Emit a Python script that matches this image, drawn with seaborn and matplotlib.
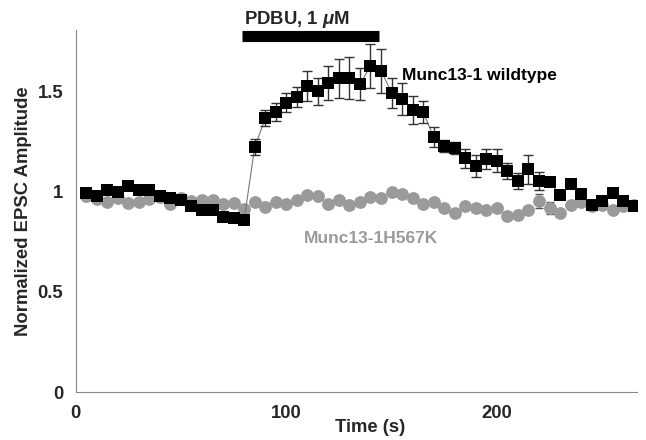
import matplotlib
matplotlib.use('Agg')
import matplotlib.pyplot as plt
import numpy as np
import pandas as pd
import seaborn as sns

# time points (s)
times = [5, 10, 15, 20, 25, 30, 35, 40, 45, 50, 55, 60, 65, 70, 75, 80,
         85, 90, 95, 100, 105, 110, 115, 120, 125, 130, 135, 140, 145, 150,
         155, 160, 165, 170, 175, 180, 185, 190, 195, 200, 205, 210, 215, 220,
         225, 230, 235, 240, 245, 250, 255, 260, 265]

# Munc13-1 wildtype
wt_mean = [0.995, 0.977, 1.01, 1.0, 1.03, 1.007, 1.01, 0.977, 0.97, 0.96,
           0.93, 0.907, 0.907, 0.874, 0.866, 0.857,
           1.22, 1.365, 1.398, 1.443, 1.473, 1.527, 1.50, 1.543, 1.565, 1.565,
           1.535, 1.626, 1.603, 1.493, 1.46, 1.406, 1.398, 1.27, 1.227, 1.218,
           1.165, 1.127, 1.16, 1.153, 1.103, 1.053, 1.11, 1.053, 1.048, 0.982,
           1.037, 0.99, 0.932, 0.954, 0.994, 0.954, 0.927]
wt_err = [0.02, 0.02, 0.02, 0.02, 0.02, 0.02, 0.02, 0.02, 0.02, 0.02,
          0.02, 0.02, 0.02, 0.02, 0.02, 0.02,
          0.04, 0.04, 0.045, 0.047, 0.05, 0.075, 0.067, 0.085, 0.097, 0.105,
          0.08, 0.11, 0.11, 0.075, 0.08, 0.07, 0.055, 0.05, 0.03, 0.03,
          0.047, 0.055, 0.05, 0.058, 0.04, 0.04, 0.07, 0.045, 0.02, 0.02,
          0.02, 0.02, 0.02, 0.02, 0.02, 0.02, 0.02]

# Munc13-1 H567K
hk_mean = [0.98, 0.965, 0.949, 0.97, 0.944, 0.949, 0.965, 0.975, 0.94, 0.966,
           0.955, 0.96, 0.957, 0.937, 0.944, 0.912,
           0.949, 0.924, 0.949, 0.937, 0.957, 0.982, 0.977, 0.94, 0.96, 0.935,
           0.949, 0.974, 0.97, 0.999, 0.99, 0.97, 0.937, 0.95, 0.92, 0.895,
           0.93, 0.92, 0.907, 0.916, 0.877, 0.882, 0.908, 0.955, 0.916, 0.894,
           0.932, 0.95, 0.93, 0.932, 0.91, 0.93, 0.932]
hk_err = [0.015] * 43 + [0.035, 0.03] + [0.015] * 8

wt = pd.DataFrame({'t': times, 'amp': wt_mean, 'err': wt_err})
hk = pd.DataFrame({'t': times, 'amp': hk_mean, 'err': hk_err})

sns.set_style('white')
plt.rcParams['font.family'] = ['Liberation Sans', 'DejaVu Sans']
plt.rcParams['font.weight'] = 'bold'
plt.rcParams['mathtext.fontset'] = 'custom'
plt.rcParams['mathtext.rm'] = 'Liberation Sans:bold'
plt.rcParams['mathtext.it'] = 'Liberation Sans:bold:italic'

gray = '#9a9a9a'
fs = 13.3

fig = plt.figure(figsize=(6.46, 4.4), dpi=100)
ax = fig.add_axes([0.117, 0.109, 0.869, 0.823])

# H567K (grey circles)
ax.errorbar(hk['t'], hk['amp'], yerr=hk['err'], fmt='none', ecolor='#555555',
            elinewidth=1, capsize=3, zorder=2)
sns.scatterplot(data=hk, x='t', y='amp', marker='o', s=85, color=gray,
                edgecolor=gray, linewidth=0, ax=ax, zorder=3)

# wildtype (black squares)
sns.lineplot(data=wt, x='t', y='amp', color='#777777', linewidth=0.8, ax=ax,
             zorder=4)
ax.errorbar(wt['t'], wt['amp'], yerr=wt['err'], fmt='none', ecolor='#333333',
            elinewidth=1, capsize=3.5, zorder=5)
sns.scatterplot(data=wt, x='t', y='amp', marker='s', s=80, color='black',
                edgecolor='black', linewidth=0, ax=ax, zorder=6)

ax.set_xlim(0, 266.5)
ax.set_ylim(0, 1.806)
ax.set_xticks([0, 100, 200])
ax.set_xticks([50, 150, 250], minor=True)
ax.set_xticklabels(['0', '100', '200'])
ax.set_yticks([0, 0.5, 1, 1.5])
ax.set_yticklabels(['0', '0.5', '1', '1.5'])
ax.tick_params(axis='both', which='both', direction='out', length=4,
               width=0.8, color='#888888', labelsize=fs, pad=5)
ax.tick_params(axis='x', which='minor', length=3)
for lab in ax.get_xticklabels() + ax.get_yticklabels():
    lab.set_fontweight('bold')

ax.set_xlabel('Time (s)', fontsize=fs, fontweight='bold', labelpad=0)
ax.xaxis.set_label_coords(0.525, -0.075)
ax.set_ylabel('Normalized EPSC Amplitude', fontsize=fs, fontweight='bold',
              labelpad=4)

for side in ['top', 'right']:
    ax.spines[side].set_visible(False)
for side in ['left', 'bottom']:
    ax.spines[side].set_color('#888888')
    ax.spines[side].set_linewidth(0.8)

# PDBU application bar
ax.plot([79, 144], [1.778, 1.778], color='black', linewidth=8,
        solid_capstyle='butt', clip_on=False, zorder=7)
ax.text(80, 1.858, r'PDBU, 1 $\mu$M', ha='left', va='center',
        fontsize=fs, fontweight='bold', clip_on=False)

ax.text(155, 1.58, 'Munc13-1 wildtype', ha='left', va='center',
        fontsize=12.5, fontweight='bold', color='black')
ax.text(108.5, 0.765, 'Munc13-1H567K', ha='left', va='center',
        fontsize=12.5, fontweight='bold', color=gray)

fig.savefig('out.png', dpi=100)
